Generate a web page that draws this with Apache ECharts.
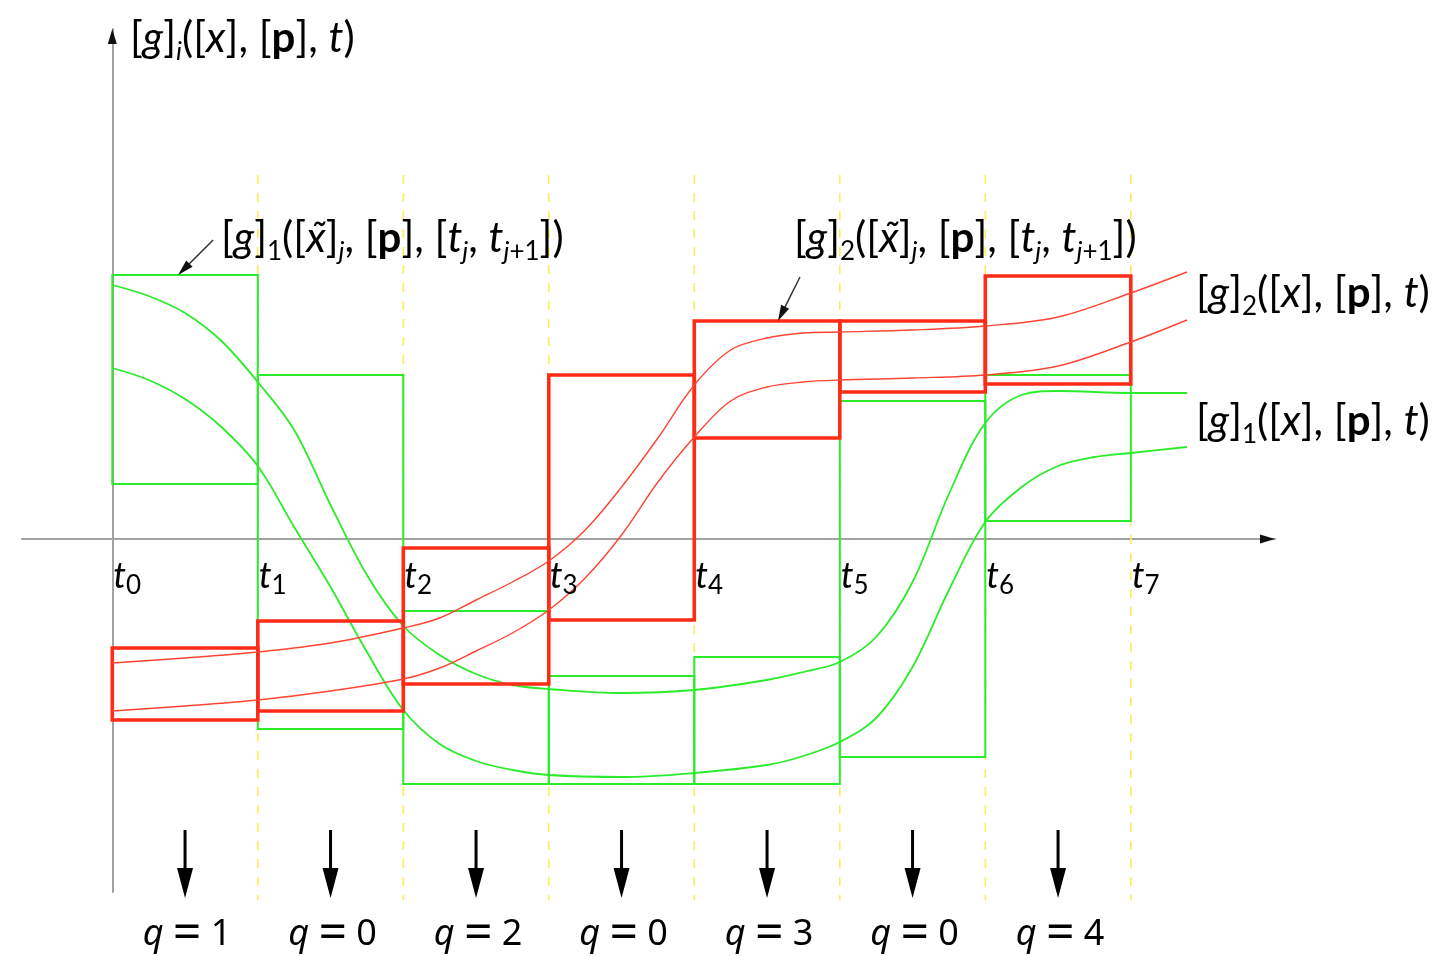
<!DOCTYPE html>
<html>
<head>
<meta charset="utf-8">
<script src="https://cdn.jsdelivr.net/npm/echarts@6/dist/echarts.min.js"></script>
<style>
  html, body { margin: 0; padding: 0; background: #fff; }
  #chart { width: 1445px; height: 956px; }
</style>
</head>
<body>
<div id="chart"></div>
<script>
// Time grid t0 ... t7 and the mode q chosen on each step
const stepIndex = [0, 1, 2, 3, 4, 5, 6, 7];
const stepSubscripts = ['0', '1', '2', '3', '4', '5', '6', '7'];
const modes = [1, 0, 2, 0, 3, 0, 4];

// Enclosures [g]1([x~]j,[p],[tj,tj+1]) per step: lower / upper bound
const g1Low  = [5.5, -19.0, -24.5, -24.5, -24.5, -21.8, 1.8];
const g1High = [26.4, 16.4, -7.2, -13.7, -11.8, 13.8, 16.4];
// Enclosures [g]2([x~]j,[p],[tj,tj+1]) per step
const g2Low  = [-18.1, -17.2, -14.5, -8.1, 10.1, 14.7, 15.5];
const g2High = [-10.9, -8.2, -0.9, 16.4, 21.8, 21.8, 26.3];

// Bounding trajectories of [g]1([x],[p],t)
const g1TrajA = [
  [0, 25.4], [0.25, 24.3], [0.5, 22.6], [0.75, 19.8], [1.0, 15.7], [1.25, 10.9],
  [1.5, 3.4], [1.75, -3.6], [2.0, -8.7], [2.25, -11.6], [2.5, -13.5], [2.75, -14.6],
  [3.0, -15.0], [3.5, -15.4], [4.0, -15.1], [4.5, -14.1], [4.75, -13.3], [5.0, -12.3],
  [5.25, -9.8], [5.5, -4.3], [5.75, 4.5], [6.0, 11.6], [6.25, 14.4], [6.5, 14.8],
  [7.0, 14.6], [7.386, 14.6]
];
const g1TrajB = [
  [0, 17.1], [0.25, 15.9], [0.5, 14.0], [0.75, 11.2], [1.0, 7.3], [1.25, 1.2],
  [1.5, -4.8], [1.75, -11.3], [2.0, -17.1], [2.25, -20.5], [2.5, -22.2], [2.75, -23.1],
  [3.0, -23.6], [3.5, -23.8], [4.0, -23.4], [4.5, -22.6], [4.75, -21.7], [5.0, -20.3],
  [5.25, -17.9], [5.5, -12.8], [5.75, -5.1], [6.0, 1.7], [6.25, 5.2], [6.5, 7.3],
  [6.75, 8.2], [7.0, 8.6], [7.386, 9.2]
];
// Bounding trajectories of [g]2([x],[p],t)
const g2TrajA = [
  [0, -12.4], [0.5, -11.9], [1.0, -11.3], [1.5, -10.4], [2.0, -8.9], [2.25, -7.9],
  [2.5, -6.1], [2.75, -4.3], [3.0, -2.2], [3.25, 0.9], [3.5, 5.2], [3.75, 10.1],
  [4.0, 15.4], [4.25, 18.9], [4.5, 20.1], [4.75, 20.6], [5.0, 20.7], [5.5, 20.9],
  [6.0, 21.3], [6.5, 22.2], [7.0, 24.6], [7.386, 26.7]
];
const g2TrajB = [
  [0, -17.2], [0.5, -16.7], [1.0, -16.1], [1.5, -15.2], [2.0, -14.0], [2.25, -12.9],
  [2.5, -11.2], [2.75, -9.4], [3.0, -7.1], [3.25, -3.9], [3.5, 0.4], [3.75, 5.7],
  [4.0, 10.2], [4.25, 13.8], [4.5, 15.2], [4.75, 15.7], [5.0, 15.9], [5.5, 16.1],
  [6.0, 16.4], [6.5, 17.3], [7.0, 19.7], [7.386, 21.9]
];

// Axis extents and decoration placement (value units)
const X_MIN = -0.6206, X_MAX = 7.991;
const Y_MIN = -35.3, Y_MAX = 51;
const DASH_TOP = 36.4, DASH_BOTTOM = -36.1;
const Q_ARROW_TOP = -29.1, Q_ARROW_TIP = -35.9;

const INK = '#151515';
const GREEN = '#2bec2b';
const RED = '#ff2b17';
const FONT = 'Lato';

function mathRich(size, subScale, subLift) {
  const lh = Math.round(size * 1.25);
  const base = { fontFamily: FONT, fontSize: size, color: INK, lineHeight: lh };
  const subSize = Math.round(size * subScale);
  const subBase = { fontFamily: FONT, fontSize: subSize, color: INK, lineHeight: Math.round(size * subLift), verticalAlign: 'bottom' };
  return {
    n: base,
    it: Object.assign({}, base, { fontStyle: 'italic' }),
    b: Object.assign({}, base, { fontWeight: 'bold' }),
    sub: subBase,
    si: Object.assign({}, subBase, { fontStyle: 'italic' })
  };
}

const chart = echarts.init(document.getElementById('chart'), null, { renderer: 'canvas' });

function boxSeries(name, lo, hi, color, width, z) {
  return {
    type: 'custom', name, z, silent: true, clip: false,
    data: lo.map((l, i) => [stepIndex[i], stepIndex[i + 1], l, hi[i]]),
    encode: { x: [0, 1], y: [2, 3] },
    renderItem(params, api) {
      const a = api.coord([api.value(0), api.value(3)]);
      const b = api.coord([api.value(1), api.value(2)]);
      return {
        type: 'rect',
        shape: { x: a[0], y: a[1], width: b[0] - a[0], height: b[1] - a[1] },
        style: { fill: 'none', stroke: color, lineWidth: width }
      };
    }
  };
}

function trajSeries(name, data, color, width, z) {
  return {
    type: 'line', name, z, data, smooth: 0.35, showSymbol: false, silent: true,
    lineStyle: { color, width }
  };
}

const labelRich = mathRich(42, 0.62, 0.7);
const tickRich = mathRich(36, 0.72, 0.85);
const qRich = {
  q: { fontFamily: 'Noto Sans', fontSize: 36, fontStyle: 'italic', color: INK, lineHeight: 46 },
  eq: { fontFamily: 'Noto Sans', fontSize: 50, color: INK, lineHeight: 46 },
  n: { fontFamily: 'Noto Sans', fontSize: 36, color: INK, lineHeight: 46 }
};

// pointer arrows from the enclosure labels down onto a box top
const pointers = [
  { t: 0.452, y: g1High[0], dx: 35, dy: -35 },
  { t: 4.575, y: g2High[4], dx: 22, dy: -44 }
];

function arrowHead(tip, ux, uy, len, half, color) {
  const bx = tip[0] - ux * len, by = tip[1] - uy * len;
  return {
    type: 'polygon',
    shape: { points: [tip, [bx - uy * half, by + ux * half], [bx + uy * half, by - ux * half]] },
    style: { fill: color }
  };
}

const option = {
  animation: false,
  backgroundColor: '#ffffff',
  grid: { left: 22, right: 170, top: 29, bottom: 64 },
  xAxis: {
    type: 'value', min: X_MIN, max: X_MAX,
    axisLine: { show: true, onZero: true, lineStyle: { color: '#a2a2a2', width: 2 } },
    axisTick: { show: false }, axisLabel: { show: false }, splitLine: { show: false }
  },
  yAxis: {
    type: 'value', min: Y_MIN, max: Y_MAX,
    axisLine: { show: true, onZero: true, lineStyle: { color: '#a2a2a2', width: 2 } },
    axisTick: { show: false }, axisLabel: { show: false }, splitLine: { show: false }
  },
  series: [
    // dashed step boundaries
    {
      type: 'custom', z: 1, silent: true, clip: false,
      data: stepIndex.slice(1).map(i => [i, 0]),
      renderItem(params, api) {
        const a = api.coord([api.value(0), DASH_TOP]);
        const b = api.coord([api.value(0), DASH_BOTTOM]);
        return {
          type: 'line', shape: { x1: a[0], y1: a[1], x2: b[0], y2: b[1] },
          style: { stroke: '#fbee5c', lineWidth: 1.6, lineDash: [9, 9] }
        };
      }
    },
    // axis arrowheads
    {
      type: 'custom', z: 3, silent: true, clip: false,
      data: [[X_MAX, 0, 1, 0], [0, Y_MAX, 0, -1]],
      renderItem(params, api) {
        const tip = api.coord([api.value(0), api.value(1)]);
        return arrowHead(tip, api.value(2), api.value(3), 15, 4.5, '#111');
      }
    },
    // tick labels t0..t7
    {
      type: 'custom', z: 6, silent: true, clip: false,
      data: stepIndex.map(i => [i, 0]),
      renderItem(params, api) {
        const p = api.coord([api.value(0), 0]);
        const s = stepSubscripts[params.dataIndex];
        return {
          type: 'text', x: p[0] + 1, y: p[1] + 37,
          style: { text: '{it|t}{sub|' + s + '}', rich: tickRich, align: 'left', verticalAlign: 'middle' }
        };
      }
    },
    boxSeries('g1 enclosure', g1Low, g1High, GREEN, 2, 2),
    trajSeries('g1 upper', g1TrajA, GREEN, 1.8, 3),
    trajSeries('g1 lower', g1TrajB, GREEN, 1.8, 3),
    boxSeries('g2 enclosure', g2Low, g2High, RED, 3.6, 4),
    trajSeries('g2 upper', g2TrajA, '#ff4434', 1.4, 5),
    trajSeries('g2 lower', g2TrajB, '#ff4434', 1.4, 5),
    // label pointers
    {
      type: 'custom', z: 6, silent: true, clip: false,
      data: pointers.map(p => [p.t, p.y]),
      renderItem(params, api) {
        const tip = api.coord([api.value(0), api.value(1)]);
        const pt = pointers[params.dataIndex];
        const tail = [tip[0] + pt.dx, tip[1] + pt.dy];
        const L = Math.hypot(pt.dx, pt.dy);
        const ux = -pt.dx / L, uy = -pt.dy / L;
        return {
          type: 'group',
          children: [
            { type: 'line', shape: { x1: tail[0], y1: tail[1], x2: tip[0] - ux * 10, y2: tip[1] - uy * 10 },
              style: { stroke: '#333', lineWidth: 1.5 } },
            arrowHead(tip, ux, uy, 16, 4.5, '#111')
          ]
        };
      }
    },
    // mode arrows and q labels
    {
      type: 'custom', z: 6, silent: true, clip: false,
      data: modes.map((q, i) => [stepIndex[i] + 0.5, q]),
      renderItem(params, api) {
        const top = api.coord([api.value(0), Q_ARROW_TOP]);
        const tip = api.coord([api.value(0), Q_ARROW_TIP]);
        return {
          type: 'group',
          children: [
            { type: 'line', shape: { x1: top[0], y1: top[1], x2: tip[0], y2: tip[1] - 20 },
              style: { stroke: '#000', lineWidth: 3 } },
            arrowHead(tip, 0, 1, 30, 8, '#000'),
            { type: 'text', x: tip[0] + 2, y: tip[1] + 37,
              style: { text: '{q|q }{eq|=}{n| ' + api.value(1) + '}', rich: qRich, align: 'center', verticalAlign: 'middle' } }
          ]
        };
      }
    }
  ],
  graphic: [
    { type: 'text', x: 130, y: 38, z: 10,
      style: { text: '{n|[}{it|g}{n|]}{si|i}{n|([}{it|x}{n|], [}{b|p}{n|], }{it|t}{n|)}', rich: labelRich, align: 'left', verticalAlign: 'middle' } },
    { type: 'text', x: 221, y: 238, z: 10,
      style: { text: '{n|[}{it|g}{n|]}{sub|1}{n|([}{it|x̃}{n|]}{si|j}{n|, [}{b|p}{n|], [}{it|t}{si|j}{n|, }{it|t}{si|j}{sub|+1}{n|])}', rich: labelRich, align: 'left', verticalAlign: 'middle' } },
    { type: 'text', x: 794, y: 238, z: 10,
      style: { text: '{n|[}{it|g}{n|]}{sub|2}{n|([}{it|x̃}{n|]}{si|j}{n|, [}{b|p}{n|], [}{it|t}{si|j}{n|, }{it|t}{si|j}{sub|+1}{n|])}', rich: labelRich, align: 'left', verticalAlign: 'middle' } },
    { type: 'text', x: 1196, y: 293, z: 10,
      style: { text: '{n|[}{it|g}{n|]}{sub|2}{n|([}{it|x}{n|], [}{b|p}{n|], }{it|t}{n|)}', rich: labelRich, align: 'left', verticalAlign: 'middle' } },
    { type: 'text', x: 1196, y: 421, z: 10,
      style: { text: '{n|[}{it|g}{n|]}{sub|1}{n|([}{it|x}{n|], [}{b|p}{n|], }{it|t}{n|)}', rich: labelRich, align: 'left', verticalAlign: 'middle' } }
  ]
};

chart.setOption(option);
</script>
</body>
</html>
